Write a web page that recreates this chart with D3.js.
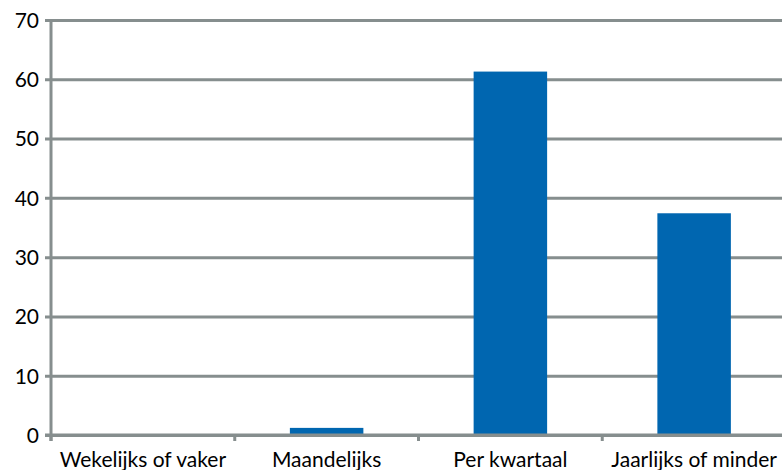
<!DOCTYPE html>
<html>
<head>
<meta charset="utf-8">
<script src="https://cdn.jsdelivr.net/npm/d3@7"></script>
<style>
  body { margin: 0; background: #fff; }
  text { font-family: Lato, "Open Sans", sans-serif; fill: #000; }
</style>
</head>
<body>
<div id="chart"></div>
<script>
// categories and percentages
var categories = ['Wekelijks of vaker', 'Maandelijks', 'Per kwartaal', 'Jaarlijks of minder'];
var values = [0, 1.2, 61.3, 37.4];
var yTicks = [0, 10, 20, 30, 40, 50, 60, 70];

var width = 782,
    height = 470,
    margin = { left: 51, right: -4, top: 20, bottom: 35 };

var svg = d3.select('#chart').append('svg')
    .attr('width', width)
    .attr('height', height);

var x = d3.scaleBand()
    .domain(categories)
    .range([margin.left, width - margin.right])
    .paddingInner(0.6)
    .paddingOuter(0.3);

var bands = d3.scaleBand()
    .domain(categories)
    .range([margin.left, width - margin.right]);

var y = d3.scaleLinear()
    .domain([0, 70])
    .range([height - margin.bottom, margin.top]);

var grey = '#868e8e';

// gridlines + y labels
var yAxis = svg.append('g')
    .attr('transform', 'translate(' + margin.left + ',0)')
    .call(d3.axisLeft(y).tickValues(yTicks).tickSize(-(width - margin.left)).tickSizeOuter(0).tickPadding(12));
yAxis.select('.domain').remove();
yAxis.selectAll('.tick line')
    .attr('x1', -6)
    .attr('stroke', grey)
    .attr('stroke-width', 3);
yAxis.selectAll('.tick text')
    .style('font-size', '21px')
    .attr('dy', '0.35em');

// bars
svg.append('g').selectAll('rect')
    .data(values)
    .enter().append('rect')
    .attr('x', function(d, i) { return x(categories[i]); })
    .attr('width', x.bandwidth())
    .attr('y', function(d) { return y(d); })
    .attr('height', function(d) { return y(0) - y(d); })
    .attr('fill', '#0066b0');

// x axis line + ticks between categories
var x0 = y(0);
svg.append('line')
    .attr('x1', margin.left - 6).attr('x2', width)
    .attr('y1', x0).attr('y2', x0)
    .attr('stroke', grey).attr('stroke-width', 3);

svg.append('g').selectAll('line')
    .data(categories)
    .enter().append('line')
    .attr('x1', function(d) { return bands(d); })
    .attr('x2', function(d) { return bands(d); })
    .attr('y1', x0).attr('y2', x0 + 6)
    .attr('stroke', grey).attr('stroke-width', 3);

// y axis line
svg.append('line')
    .attr('x1', margin.left).attr('x2', margin.left)
    .attr('y1', y(70) - 1).attr('y2', x0 + 6)
    .attr('stroke', grey).attr('stroke-width', 3);

// category labels
svg.append('g').selectAll('text')
    .data(categories)
    .enter().append('text')
    .attr('x', function(d) { return bands(d) + bands.bandwidth() / 2; })
    .attr('y', x0 + 32)
    .attr('text-anchor', 'middle')
    .style('font-size', '21px')
    .text(function(d) { return d; });
</script>
</body>
</html>
